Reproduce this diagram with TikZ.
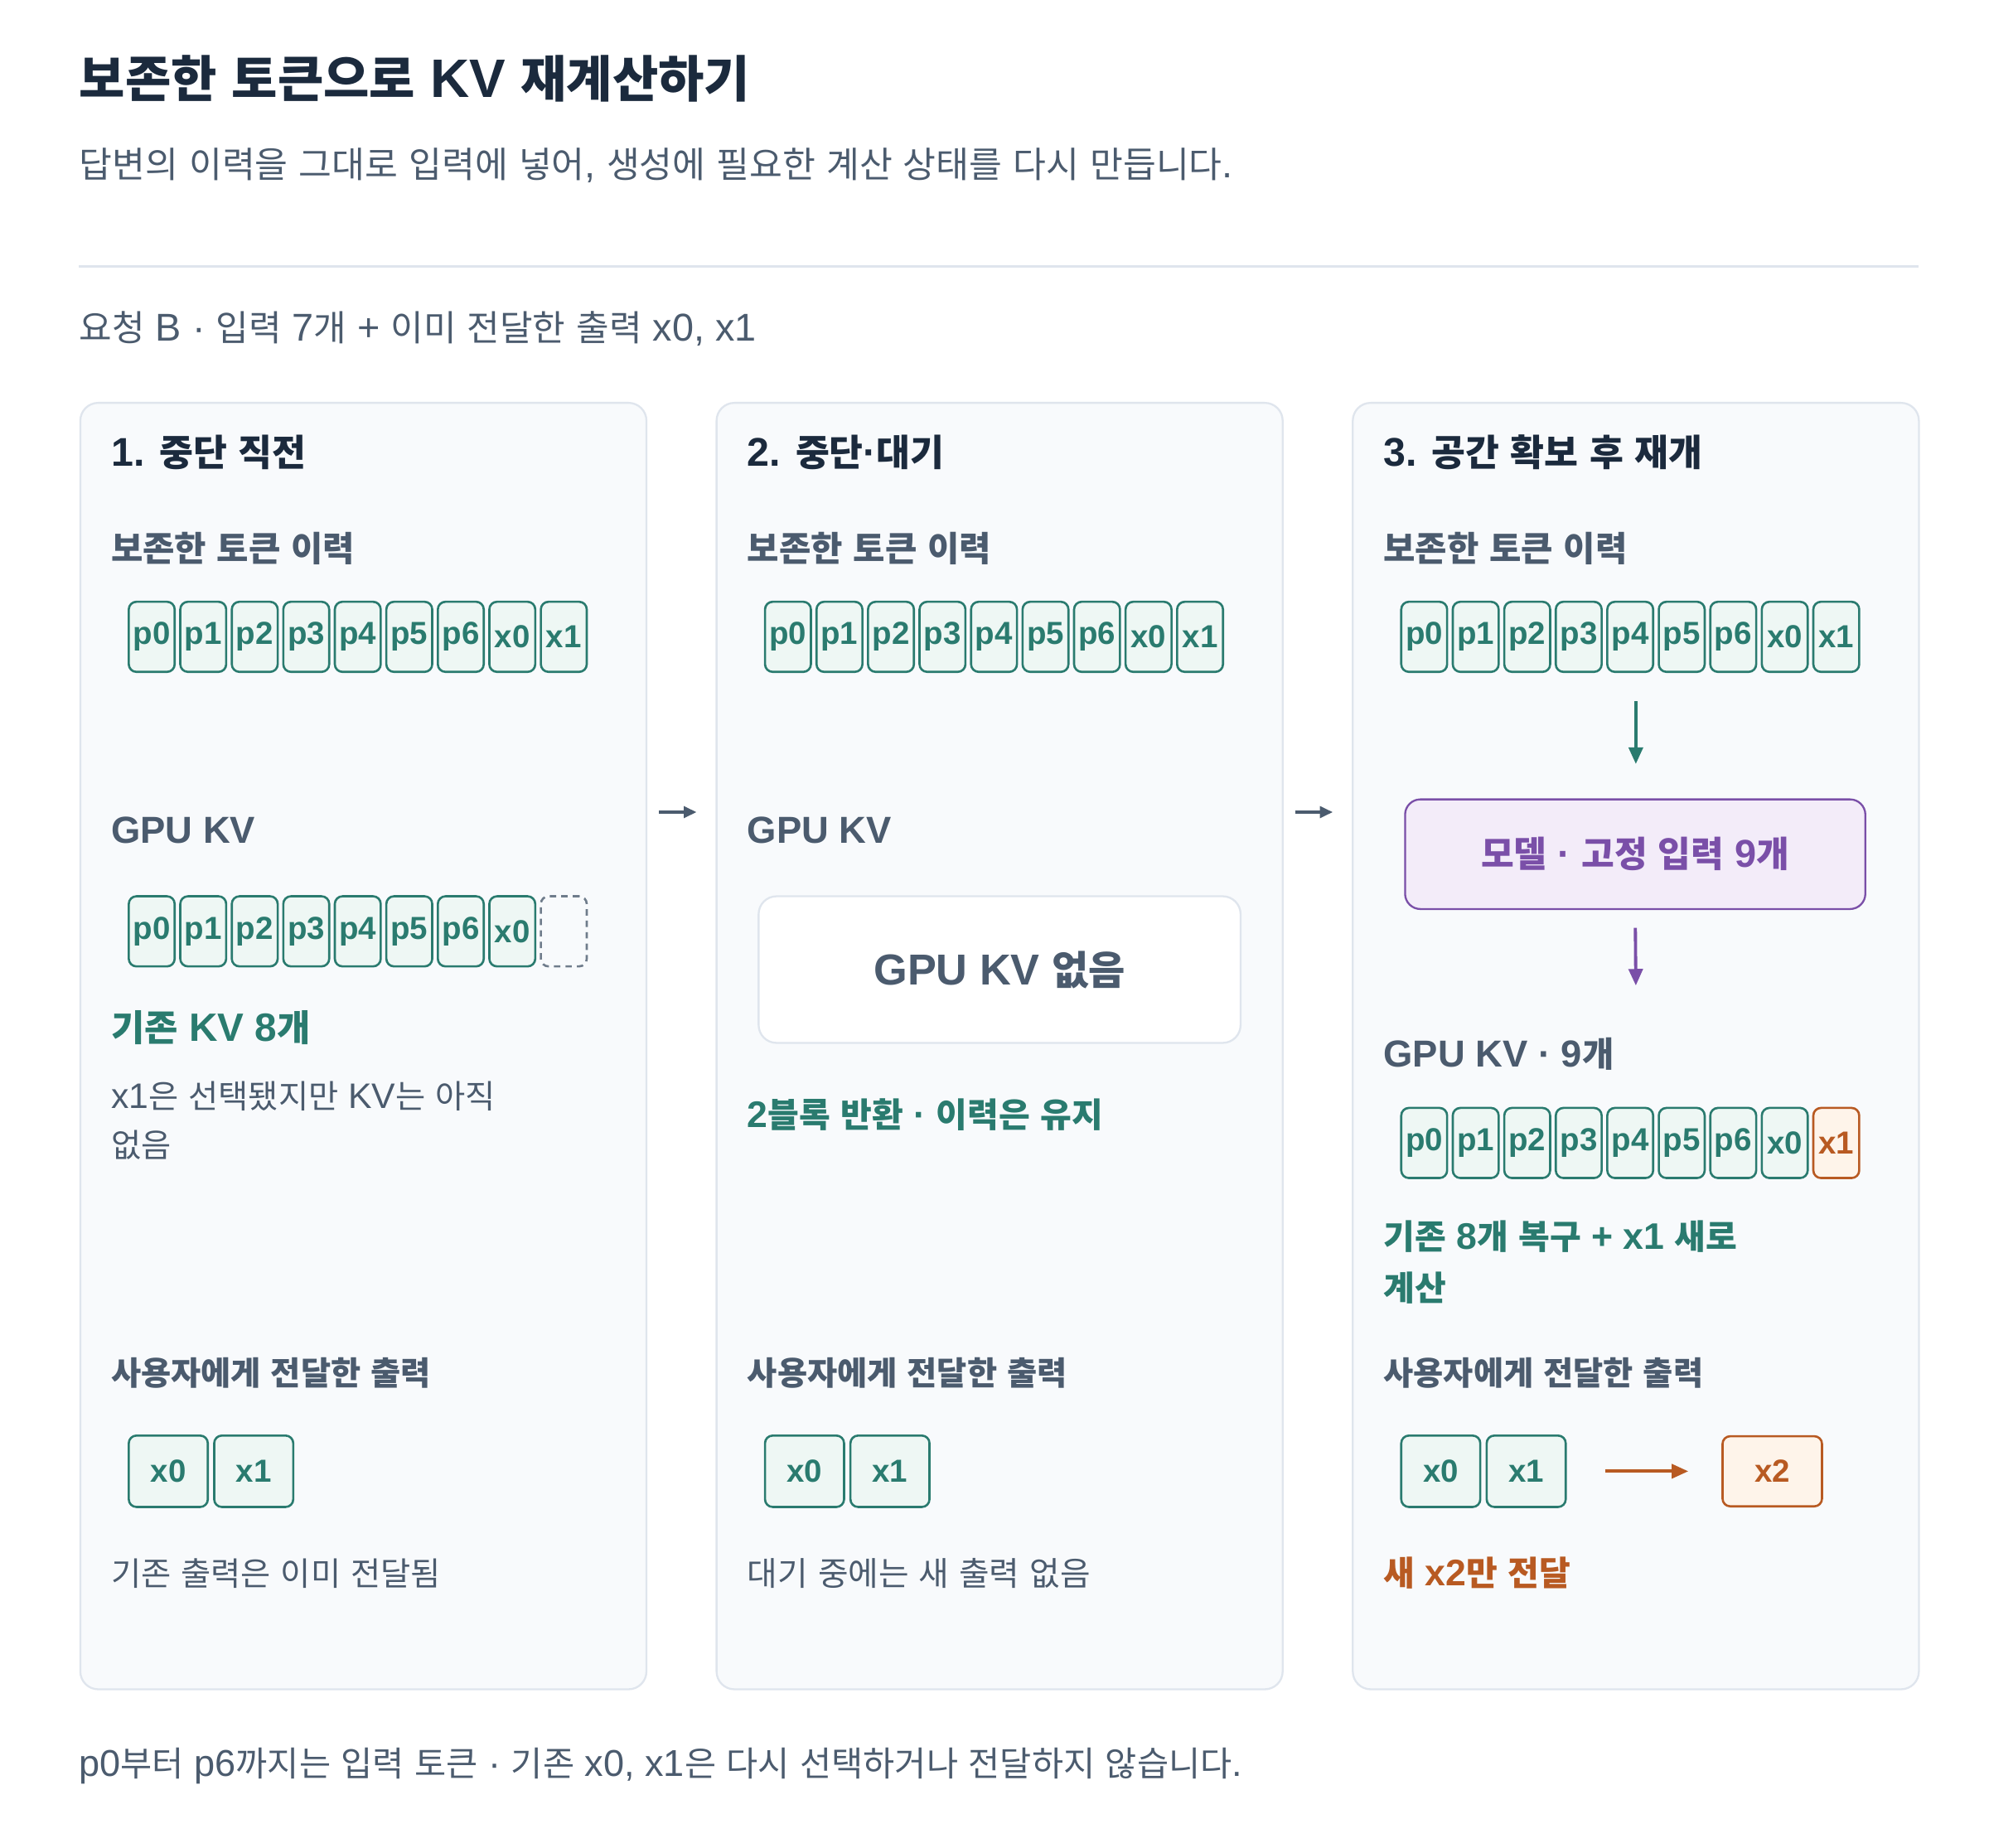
\documentclass[tikz,border=0pt]{standalone}
\usepackage{fontspec}
\setmainfont{Liberation Sans}
\newfontfamily\hgfont{Noto Sans CJK KR}[Scale=0.92]
% hangul syllables go to the CJK font, the rest stays in Liberation Sans
\XeTeXinterchartokenstate=1
\newXeTeXintercharclass\hgclass
\newcount\hgcnt
\hgcnt="AC00
\loop\ifnum\hgcnt<"D7A4 \XeTeXcharclass\hgcnt=\hgclass \advance\hgcnt by 1 \repeat
\XeTeXinterchartoks 0 \hgclass = {\begingroup\hgfont}
\XeTeXinterchartoks 4095 \hgclass = {\begingroup\hgfont}
\XeTeXinterchartoks \hgclass 0 = {\endgroup}
\XeTeXinterchartoks \hgclass 4095 = {\endgroup}
\usetikzlibrary{arrows.meta}
\definecolor{ink}{HTML}{1B2A3D}
\definecolor{slate}{HTML}{4B5B6E}
\definecolor{grn}{HTML}{2A7B6F}
\definecolor{grnbg}{HTML}{EEF7F4}
\definecolor{pnl}{HTML}{F8FAFC}
\definecolor{pnledge}{HTML}{DFE5ED}
\definecolor{prp}{HTML}{7A4FA8}
\definecolor{prpbg}{HTML}{F3ECF9}
\definecolor{org}{HTML}{B85A22}
\definecolor{orgbg}{HTML}{FEF4EA}
\newcommand\fsz[1]{\fontsize{#1}{#1}\selectfont}
\begin{document}
\begin{tikzpicture}[x=1pt,y=-1pt,
  txt/.style={anchor=west,inner sep=0pt},
  ptitle/.style={txt,text=ink,font=\bfseries\fsz{31.4}},
  sec/.style={txt,text=slate,font=\bfseries\fsz{29.5}},
  outlbl/.style={txt,text=slate,font=\bfseries\fsz{27.8}},
  note/.style={txt,text=slate,font=\fsz{27.8}},
  panel/.style={draw=pnledge,fill=pnl,line width=1.5pt,rounded corners=14pt,minimum width=444pt,minimum height=1009pt},
  tok/.style={draw=grn,fill=grnbg,line width=1.7pt,rounded corners=6pt,minimum width=36pt,minimum height=55pt,inner sep=0pt,text=grn,font=\bfseries\fsz{25}},
  newtok/.style={tok,draw=org,fill=orgbg,text=org},
  emptytok/.style={tok,draw=slate!80,fill=none,dash pattern=on 5pt off 4pt},
  obox/.style={tok,minimum width=62pt,minimum height=56pt,font=\bfseries\fsz{25}},
  flow/.style={-{Triangle[length=10pt,width=9pt]},line width=2pt,draw=slate}]
\fill[white] (0,0) rectangle (1560,1449.5);
\useasboundingbox (0,0) rectangle (1560,1449.5);

\node[txt,text=ink,font=\bfseries\fsz{42.5}] (title) at (62,62) {보존한 토큰으로 KV 재계산하기};
\node[txt,text=slate,font=\fsz{30.6}] (sub) at (62,130) {답변의 이력을 그대로 입력에 넣어, 생성에 필요한 계산 상태를 다시 만듭니다.};
\draw[pnledge,line width=1.5pt] (62,209) -- (1505,209);
\node[txt,text=slate,font=\fsz{30.4}] (req) at (62,258) {요청 B · 입력 7개 + 이미 전달한 출력 x0, x1};

\foreach \c/\n/\t in {0/1/{1. 중단 직전},499/2/{2. 중단·대기},998/3/{3. 공간 확보 후 재개}} {
    \node[panel] (pan\n) at (285+\c,820.5) {};
    \node[ptitle] (ttl\n) at (87+\c,355) {\t};
    \node[sec] (his\n) at (87+\c,430) {보존한 토큰 이력};
    \foreach \k [count=\i from 0] in {p0,p1,p2,p3,p4,p5,p6,x0,x1}
        \node[tok] (h\n-\i) at (119+\c+40.4*\i,499.5) {\k};
    \node[outlbl] (out\n) at (87+\c,1077) {사용자에게 전달한 출력};
    \node[obox] (o\n-0) at (132+\c,1154) {x0};
    \node[obox] (o\n-1) at (199+\c,1154) {x1};
}
\draw[flow,shorten <=9pt,shorten >=15pt] ([yshift=183.5pt]pan1.east) -- ([yshift=183.5pt]pan2.west);
\draw[flow,shorten <=9pt,shorten >=15pt] ([yshift=183.5pt]pan2.east) -- ([yshift=183.5pt]pan3.west);

% panel 1
\node[sec] (gpu1) at (87,651) {GPU KV};
\foreach \k [count=\i from 0] in {p0,p1,p2,p3,p4,p5,p6,x0}
    \node[tok] (k1-\i) at (119+40.4*\i,730.5) {\k};
\node[emptytok] (k1-8) at (119+40.4*8,730.5) {};
\node[txt,text=grn,font=\bfseries\fsz{31}] (old1) at (87,806) {기존 KV 8개};
\node[note,align=left,font=\fontsize{27.8}{38}\selectfont] (why1) at (87,879) {x1은 선택됐지만 KV는 아직\\없음};
\node[note] (done1) at (87,1234) {기존 출력은 이미 전달됨};

% panel 2
\node[sec] (gpu2) at (586,651) {GPU KV};
\node[draw=pnledge,fill=white,line width=1.5pt,rounded corners=14pt,minimum width=378pt,minimum height=115pt,text=slate,font=\bfseries\fsz{34}] (none2) at (784,760.5) {GPU KV 없음};
\node[txt,text=grn,font=\bfseries\fsz{29}] (keep2) at (586,874) {2블록 반환 · 이력은 유지};
\node[note,font=\fsz{28.1}] (wait2) at (586,1234) {대기 중에는 새 출력 없음};

% panel 3
\coordinate (in3) at (1283,550);
\coordinate (kv3) at (1283,773);
\node[draw=prp,fill=prpbg,line width=1.5pt,rounded corners=12pt,minimum width=361pt,minimum height=86pt,text=prp,font=\bfseries\fsz{30.5}] (model) at (1282.5,670) {모델 · 고정 입력 9개};
\draw[flow,draw=grn,line width=2.5pt,-{Triangle[length=13pt,width=11pt]},shorten >=27pt] (in3) -- (in3 |- model.north);
\draw[flow,draw=prp,line width=2.5pt,-{Triangle[length=13pt,width=11pt]},shorten <=14pt] (model.south) -- (kv3);
\node[sec] (gpu3) at (1085,827) {GPU KV · 9개};
\foreach \k [count=\i from 0] in {p0,p1,p2,p3,p4,p5,p6,x0}
    \node[tok] (k3-\i) at (1117+40.4*\i,896.5) {\k};
\node[newtok] (k3-8) at (1117+40.4*8,896.5) {x1};
\node[txt,align=left,text=grn,font=\bfseries\fontsize{29}{40}\selectfont] (fix3) at (1085,990) {기존 8개 복구 + x1 새로\\계산};
\node[obox,newtok,minimum width=78pt] (o3-2) at (1390,1154) {x2};
\draw[flow,draw=org,line width=2.5pt,-{Triangle[length=13pt,width=11pt]},shorten <=30pt,shorten >=26pt] (o3-1) -- (o3-2);
\node[txt,text=org,font=\bfseries\fsz{29}] (new3) at (1085,1234) {새 x2만 전달};

\node[txt,text=slate,font=\fsz{29.3}] (foot) at (62,1385) {p0부터 p6까지는 입력 토큰 · 기존 x0, x1은 다시 선택하거나 전달하지 않습니다.};
\end{tikzpicture}
\end{document}
